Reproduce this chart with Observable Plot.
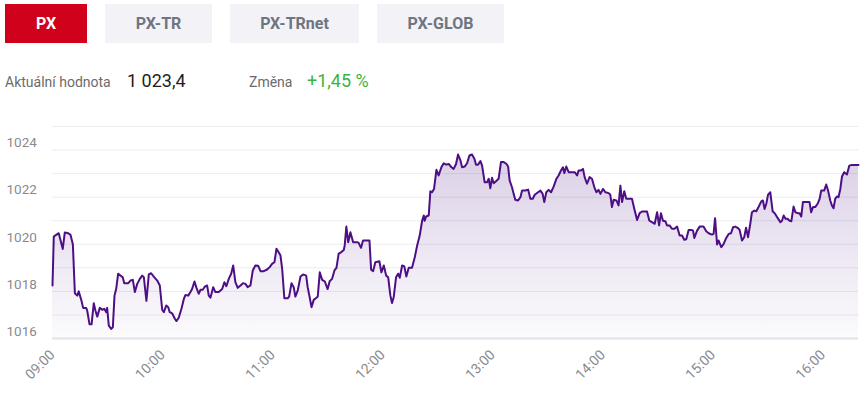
<!DOCTYPE html>
<html><head><meta charset="utf-8">
<script src="https://cdn.jsdelivr.net/npm/d3@7"></script>
<script src="https://cdn.jsdelivr.net/npm/@observablehq/plot@0.6"></script>
<style>
body{margin:0;background:#fff;font-family:Roboto,"Noto Sans",sans-serif;width:862px;height:397px;overflow:hidden;position:relative}
.tab{position:absolute;top:4px;height:39px;line-height:39px;text-align:center;font-weight:700;font-size:16px;background:#f3f3f7;color:#6e7580}
.tab.active{background:#d0021b;color:#fff}
.lbl{position:absolute;top:73px;font-size:14px;color:#6b6b6b;line-height:18px}
.val{position:absolute;top:71px;font-size:18px;color:#1e1e1e;line-height:20px}
#chart{position:absolute;left:0;top:115px}
</style></head><body>
<div id="tabs"></div>
<div class="lbl" style="left:5px">Aktuální hodnota</div>
<div class="val" style="left:127px">1 023,4</div>
<div class="lbl" style="left:249px">Změna</div>
<div class="val" style="left:307px;color:#3cb43c">+1,45 %</div>
<div id="chart"></div>
<script>
const tabs = ["PX", "PX-TR", "PX-TRnet", "PX-GLOB"];
const tabLefts = [5, 105, 230, 377];
const tabWidths = [82, 107, 129, 127];

// minutes after 09:00 and index value
const minutes = [0,0.7,2.0,3.4,5.6,6.7,8.6,9.8,11.1,12.2,13.5,14.3,15.8,16.7,18.4,18.9,20.2,21.3,22.5,23.4,24.4,25.8,27.1,28.2,29.3,29.8,30.7,32.0,32.9,33.8,34.7,35.8,37.1,38.3,39.1,41.3,42.5,43.8,44.9,46.2,47.6,48.9,49.8,51.2,52.5,53.8,55.2,57.1,58.5,59.8,60.7,62.0,63.1,63.9,65.2,66.7,67.6,68.8,70.3,71.6,72.5,74.0,75.2,76.1,77.4,78.5,79.7,80.7,81.9,83.0,84.3,85.2,86.1,87.6,88.8,90.6,92.5,93.7,94.8,96.1,97.4,98.5,99.7,101.0,102.5,103.9,105.2,106.4,107.9,109.2,110.6,112.1,113.4,115.2,117.0,118.4,119.7,121.0,122.1,123.3,124.3,125.2,126.4,128.2,129.0,130.3,131.5,132.4,133.7,135.2,136.6,138.3,139.1,140.2,141.2,142.4,143.9,144.6,145.7,147.0,148.4,150.0,151.1,152.4,153.7,154.8,156.0,157.3,158.8,159.3,160.2,161.2,162.4,163.9,166.1,166.9,168.2,169.3,171.1,172.8,173.7,174.8,176.0,178.2,179.3,180.6,181.9,183.0,184.2,185.1,186.0,187.3,188.4,189.3,190.6,191.8,192.9,194.2,196.0,197.5,198.8,200.2,201.5,202.4,202.9,203.7,205.1,206.0,206.9,208.0,209.3,210.5,212.0,213.3,214.6,216.0,217.5,218.7,220.0,221.1,222.4,223.3,224.7,226.0,227.3,228.7,230.0,230.9,232.0,233.3,234.2,235.6,236.9,237.8,238.7,239.6,240.5,241.8,243.2,244.5,246.0,247.4,248.4,249.2,250.5,251.4,252.3,253.8,255.1,256.0,257.8,259.3,260.5,261.8,262.9,264.7,266.0,267.2,268.1,269.2,270.5,271.8,273.2,274.7,275.9,277.2,278.3,279.0,280.1,281.4,283.2,284.7,286.0,286.8,288.1,289.2,290.1,291.4,292.8,294.1,295.4,296.5,297.7,298.7,300.1,301.4,303.2,304.1,305.0,305.9,307.4,308.6,309.6,310.5,311.7,312.8,314.1,315.9,317.2,318.7,320.1,321.4,322.8,324.1,325.4,326.8,328.3,329.6,330.7,331.7,332.8,334.1,335.0,336.4,337.7,339.0,340.5,341.9,343.2,344.4,345.5,346.8,348.3,349.2,349.9,351.4,352.8,354.9,356.4,357.7,359.5,360.4,361.2,362.3,363.1,364.6,365.9,367.3,368.6,369.9,371.0,372.2,373.5,374.6,375.9,377.1,378.1,379.2,380.4,381.3,382.6,383.7,384.9,386.4,387.3,388.2,389.1,390.1,391.3,392.6,394.0,395.3,396.8,397.7,398.6,399.6,400.7,401.8,402.8,404.0,405.0,406.2,407.3,408.2,409.1,410.4,411.9,412.7,413.6,414.6,415.8,417.1,418.2,419.1,420.7,421.8,422.8,424.0,424.9,425.8,426.7,427.6,428.5,429.5,430.4,431.6,433.1,434.4,435.8,437.6,439.4];
const values = [1018.25,1020.33,1020.4,1020.47,1019.8,1020.5,1020.47,1020.4,1020.0,1017.92,1017.82,1018.0,1017.6,1017.3,1017.29,1017.19,1016.6,1016.6,1017.5,1017.19,1016.93,1017.3,1017.22,1017.26,1017.12,1017.3,1016.55,1016.41,1016.48,1017.82,1018.1,1018.75,1018.67,1018.6,1018.35,1018.35,1018.46,1018.49,1017.97,1018.32,1018.53,1018.67,1018.6,1017.6,1018.72,1018.77,1018.63,1018.46,1018.25,1017.22,1017.12,1017.4,1017.33,1017.12,1017.07,1016.84,1016.74,1016.88,1017.26,1017.68,1017.85,1017.82,1017.97,1018.1,1018.42,1018.15,1017.9,1018.07,1018.07,1018.2,1018.25,1017.82,1017.73,1018.18,1017.97,1017.97,1018.1,1018.39,1018.22,1018.53,1018.75,1019.1,1018.39,1018.15,1018.25,1018.35,1018.32,1018.18,1018.25,1018.89,1019.1,1019.09,1018.86,1018.86,1018.93,1019.03,1019.17,1019.24,1019.81,1019.66,1019.52,1018.96,1017.71,1017.71,1017.78,1018.35,1018.18,1017.78,1018.04,1018.63,1018.72,1018.67,1018.18,1017.75,1017.33,1017.64,1017.73,1017.78,1018.81,1018.49,1018.43,1018.1,1018.43,1018.53,1018.89,1019.0,1019.6,1019.66,1019.76,1019.95,1020.75,1020.09,1020.51,1020.09,1020.09,1020.06,1019.85,1020.16,1020.16,1020.16,1018.92,1018.86,1019.24,1019.28,1018.81,1019.1,1018.67,1018.6,1017.82,1017.51,1017.75,1018.6,1018.75,1018.58,1019.1,1019.06,1018.63,1019.0,1019.0,1019.45,1019.95,1020.37,1021.0,1021.22,1021.0,1021.18,1021.22,1022.25,1022.21,1022.35,1023.16,1022.92,1023.27,1023.44,1023.38,1023.41,1023.27,1023.2,1023.41,1023.81,1023.56,1023.27,1023.3,1023.44,1023.77,1023.81,1023.63,1023.38,1023.38,1023.53,1023.34,1022.63,1022.63,1022.78,1022.38,1022.82,1022.59,1022.68,1022.78,1023.49,1023.49,1023.42,1023.3,1022.71,1022.42,1022.14,1021.89,1021.86,1022.0,1022.28,1022.28,1022.32,1021.93,1021.93,1022.1,1022.21,1022.28,1022.14,1021.79,1022.21,1022.31,1022.21,1022.45,1022.78,1022.92,1023.13,1023.27,1023.02,1023.3,1023.06,1023.06,1023.06,1022.92,1023.13,1023.13,1023.2,1022.85,1022.57,1022.85,1022.78,1022.42,1022.21,1022.31,1022.14,1022.35,1022.21,1022.17,1022.1,1021.58,1021.89,1021.86,1021.65,1022.49,1021.79,1022.25,1021.93,1021.93,1021.93,1021.5,1021.03,1021.32,1021.39,1021.39,1021.39,1021.0,1020.94,1020.87,1021.36,1020.8,1021.32,1021.0,1020.98,1020.8,1020.8,1020.66,1020.66,1020.75,1020.37,1020.37,1020.19,1020.21,1020.61,1020.61,1020.58,1020.27,1020.58,1020.75,1020.75,1020.55,1020.47,1020.41,1020.44,1021.11,1019.99,1020.16,1019.88,1020.02,1020.27,1020.44,1020.47,1020.72,1020.75,1020.7,1020.61,1020.16,1020.3,1020.7,1020.3,1020.87,1021.36,1021.43,1021.4,1021.58,1021.82,1021.86,1021.5,1021.71,1022.11,1022.21,1021.4,1021.29,1021.12,1020.94,1021.0,1021.22,1021.08,1021.08,1021.0,1020.98,1021.6,1021.36,1021.32,1021.32,1021.18,1021.79,1021.79,1021.79,1021.79,1021.36,1021.58,1021.58,1021.72,1021.93,1022.28,1022.28,1022.54,1022.28,1021.86,1021.65,1021.53,1021.93,1022.03,1022.0,1022.35,1022.88,1023.06,1022.96,1023.34,1023.37,1023.37,1023.37];

const yLabels = [1016, 1018, 1020, 1022, 1024];
const yGrid = [1017, 1018, 1019, 1020, 1021, 1022, 1023, 1024, 1025];
const hourLabels = ["09:00","10:00","11:00","12:00","13:00","14:00","15:00","16:00"];

// tabs
const tabsEl = document.getElementById("tabs");
tabs.forEach((t, i) => {
  const d = document.createElement("div");
  d.className = "tab" + (i === 0 ? " active" : "");
  d.style.left = tabLefts[i] + "px";
  d.style.width = tabWidths[i] + "px";
  d.textContent = t;
  tabsEl.appendChild(d);
});

const base = new Date(2024, 0, 2, 9, 0, 0);
const toDate = m => new Date(base.getTime() + m * 60000);
const data = minutes.map((m, i) => ({t: toDate(m), v: values[i]}));
const hourTicks = hourLabels.map(h => { const [H, M] = h.split(":").map(Number); return new Date(2024, 0, 2, H, M); });

const gradient = () => {
  const ns = "http://www.w3.org/2000/svg";
  const defs = document.createElementNS(ns, "defs");
  const lg = document.createElementNS(ns, "linearGradient");
  lg.setAttribute("id", "pxgrad");
  lg.setAttribute("x1", "0"); lg.setAttribute("y1", "0");
  lg.setAttribute("x2", "0"); lg.setAttribute("y2", "1");
  [["0%", "#5b2a8e", 0.22], ["100%", "#5b2a8e", 0.02]].forEach(([o, c, a]) => {
    const s = document.createElementNS(ns, "stop");
    s.setAttribute("offset", o); s.setAttribute("stop-color", c); s.setAttribute("stop-opacity", a);
    lg.appendChild(s);
  });
  defs.appendChild(lg);
  return defs;
};

const chart = Plot.plot({
  width: 862,
  height: 282,
  marginLeft: 52,
  marginRight: 4,
  marginTop: 11,
  marginBottom: 59,
  style: {fontFamily: "Roboto, sans-serif", background: "transparent"},
  x: {type: "time", domain: [data[0].t, data[data.length - 1].t]},
  y: {domain: [1016, 1025]},
  marks: [
    gradient,
    Plot.ruleY(yGrid, {stroke: "#ebebf1", strokeWidth: 1}),
    Plot.ruleY([1016], {stroke: "#e3e3ea", strokeWidth: 2}),
    Plot.areaY(data, {x: "t", y1: 1016, y2: "v", fill: "url(#pxgrad)", curve: "linear"}),
    Plot.lineY(data, {x: "t", y: "v", stroke: "#4e0f86", strokeWidth: 2, curve: "linear"}),
    Plot.axisY({ticks: yLabels, tickFormat: d => String(d), tickSize: 0, tickPadding: 3, textAnchor: "start", dx: -43, dy: -7, fontSize: 13.5, fill: "#8a8a8f", label: null}),
    Plot.axisX({ticks: hourTicks, tickFormat: d3.timeFormat("%H:%M"), tickSize: 0, tickPadding: 14, tickRotate: -45, fontSize: 14, fill: "#8a8a8f", label: null})
  ]
});
document.getElementById("chart").appendChild(chart);
</script>
</body></html>
